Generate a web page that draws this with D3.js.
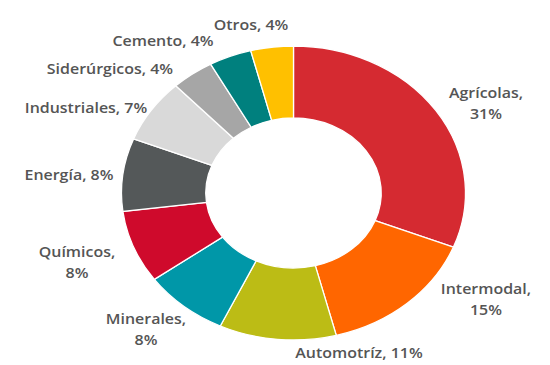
<!DOCTYPE html>
<html><head><meta charset="utf-8">
<script src="https://cdn.jsdelivr.net/npm/d3@7"></script>
<style>html,body{margin:0;padding:0;background:#fff;}svg{display:block;}</style>
</head><body>
<script>
const categories = ["Agrícolas","Intermodal","Automotríz","Minerales","Químicos","Energía","Industriales","Siderúrgicos","Cemento","Otros"];
const values = [31,15,11,8,8,8,7,4,4,4];
const colors = ["#d52a31","#ff6600","#bcbc15","#0097a8","#cf0a2c","#545859","#d9d9d9","#a6a6a6","#00807e","#ffc000"];
// label lines per category (split where the original wraps)
const labelLines = [["Agrícolas,","31%"],["Intermodal,","15%"],["Automotríz, 11%"],["Minerales,","8%"],["Químicos,","8%"],["Energía, 8%"],["Industriales, 7%"],["Siderúrgicos, 4%"],["Cemento, 4%"],["Otros, 4%"]];

// layout (not data)
const W = 550, H = 365;
const cx = 293.5, cy = 193, rOuter = 147, rInner = 75, sx = 1.17;
const labelAt = [[486,93],[486,289],[359,353],[146,319],[77,252],[69,175],[86,108],[110,69],[163,41],[251,25]];

const svg = d3.select("body").append("svg").attr("width", W).attr("height", H);
const pie = d3.pie().sort(null).value(d => d)(values);
const arc = d3.arc().innerRadius(rInner).outerRadius(rOuter);

svg.append("g")
  .attr("transform", `translate(${cx},${cy}) scale(${sx},1)`)
  .selectAll("path").data(pie).join("path")
  .attr("d", arc)
  .attr("fill", (d,i) => colors[i])
  .attr("stroke", "#fff")
  .attr("stroke-width", 1.3)
  .attr("vector-effect", "non-scaling-stroke");

const lg = svg.append("g");
categories.forEach((c,i) => {
  const [x,y] = labelAt[i];
  const t = lg.append("text")
    .attr("transform", `translate(${x},${y}) scale(1.14,1)`)
    .attr("text-anchor", "middle")
    .attr("font-family", "'Open Sans', sans-serif")
    .attr("font-size", 14)
    .attr("font-weight", 600)
    .attr("fill", "#555555");
  labelLines[i].forEach((ln, j) => {
    t.append("tspan").attr("x", 0).attr("y", j*21.5).attr("dy", "0.35em").text(ln);
  });
});
</script>
</body></html>
